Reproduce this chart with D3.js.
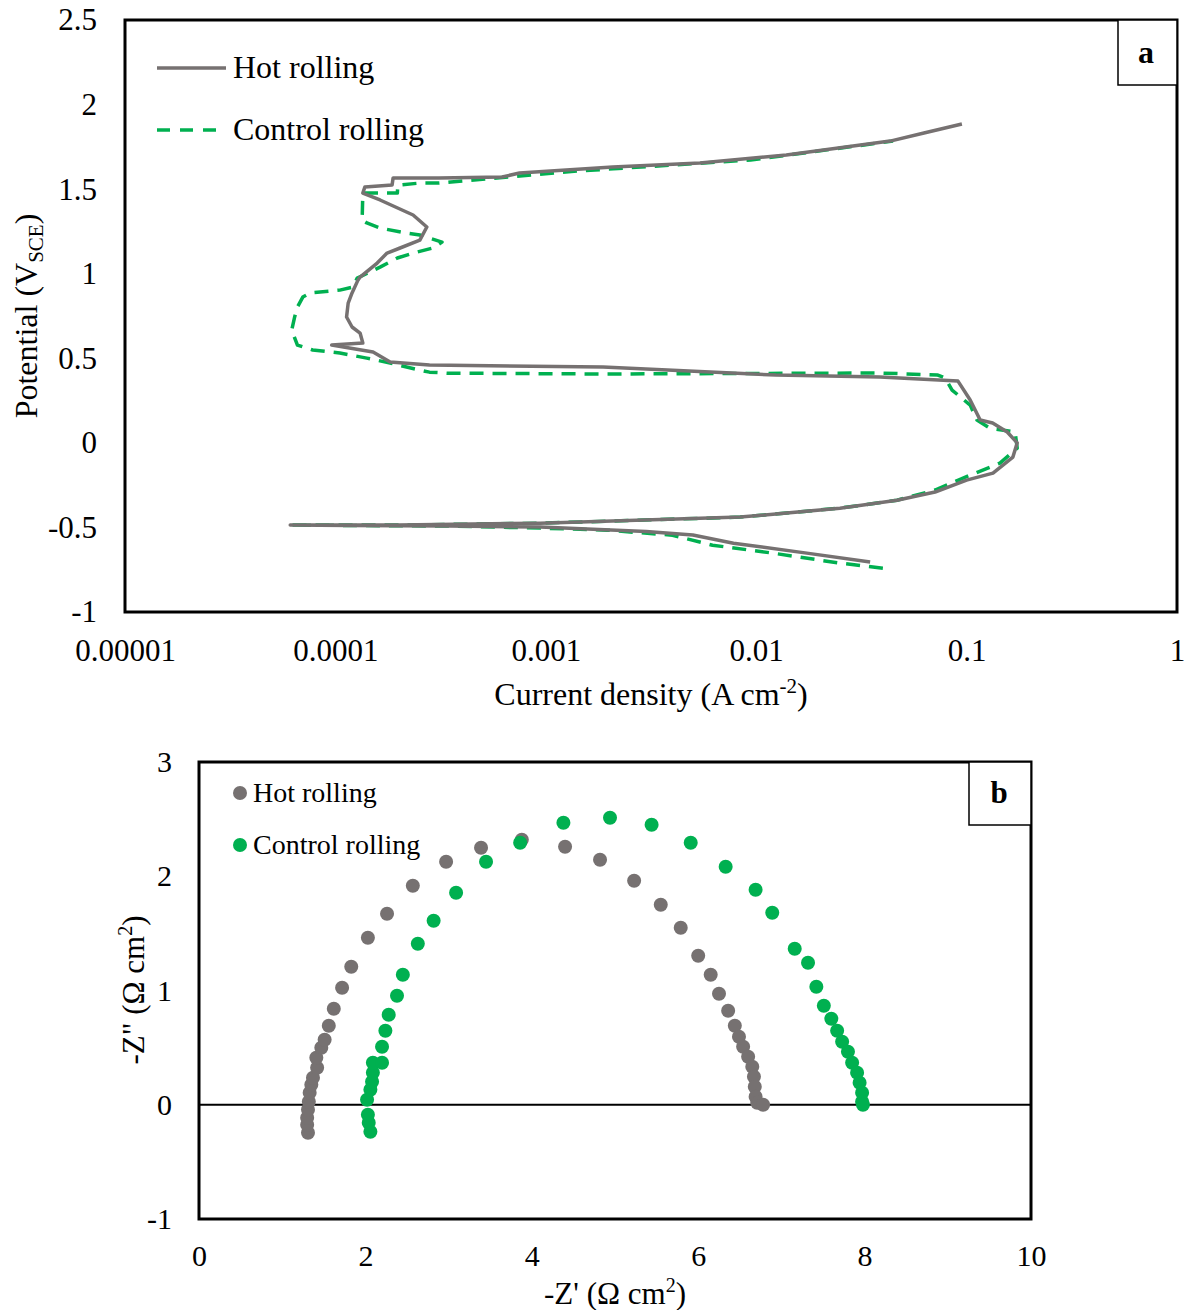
<!DOCTYPE html>
<html>
<head>
<meta charset="utf-8">
<script src="https://cdn.jsdelivr.net/npm/d3@7"></script>
<style>
  body { margin: 0; background: #fff; }
  svg text { font-family: "Liberation Serif", "Times New Roman", serif; fill: #000; }
</style>
</head>
<body>
<script>
// ---- data: polarization curves [current density (A cm-2), potential (V SCE)]
let hotPol = [
  [0.0348, -0.705], [0.0174, -0.652], [0.0078, -0.593], [0.0050, -0.545], [0.0030, -0.524],
  [0.00094, -0.498], [0.00035, -0.492], [0.000117, -0.489], [0.000061, -0.486],
  [0.0002, -0.486], [0.00094, -0.475], [0.0084, -0.439], [0.025, -0.386], [0.0467, -0.339],
  [0.0708, -0.291], [0.100, -0.220], [0.1335, -0.179], [0.166, -0.084], [0.174, 0.0],
  [0.156, 0.064], [0.133, 0.117], [0.116, 0.135], [0.104, 0.253], [0.091, 0.365],
  [0.0387, 0.389], [0.0124, 0.401], [0.00187, 0.448], [0.00028, 0.460], [0.000182, 0.478],
  [0.000151, 0.537], [0.000096, 0.578], [0.000135, 0.590], [0.000131, 0.649], [0.00012, 0.685],
  [0.000113, 0.744], [0.000115, 0.826], [0.00012, 0.886], [0.000128, 0.962], [0.000131, 0.980],
  [0.000158, 1.063], [0.000176, 1.122], [0.000203, 1.152], [0.000252, 1.199], [0.000272, 1.276],
  [0.000234, 1.347], [0.000163, 1.436], [0.000135, 1.477], [0.000138, 1.512], [0.000186, 1.524],
  [0.000188, 1.566], [0.00031, 1.566], [0.00062, 1.572], [0.00075, 1.595], [0.00208, 1.631],
  [0.0054, 1.654], [0.0139, 1.702], [0.0433, 1.784], [0.0627, 1.832], [0.095, 1.885]
];
let ctrlPol = [
  [0.040, -0.741], [0.025, -0.711], [0.012, -0.652], [0.0062, -0.605], [0.0040, -0.546],
  [0.00195, -0.516], [0.00094, -0.504], [0.00035, -0.492], [0.000061, -0.486],
  [0.0002, -0.486], [0.00094, -0.475], [0.0084, -0.439], [0.025, -0.386], [0.0467, -0.339],
  [0.0708, -0.279], [0.104, -0.191], [0.144, -0.120], [0.174, -0.031], [0.170, 0.064],
  [0.129, 0.087], [0.112, 0.135], [0.104, 0.223], [0.0853, 0.312], [0.079, 0.383],
  [0.073, 0.401], [0.0387, 0.413], [0.00187, 0.407], [0.00034, 0.412], [0.00028, 0.418],
  [0.000252, 0.430], [0.000182, 0.472], [0.000141, 0.501], [0.000105, 0.531], [0.000078, 0.549],
  [0.000066, 0.578], [0.000062, 0.667], [0.000064, 0.744], [0.000066, 0.803], [0.000070, 0.862],
  [0.000076, 0.886], [0.000105, 0.903], [0.000121, 0.921], [0.000127, 0.974], [0.000163, 1.039],
  [0.000197, 1.093], [0.000234, 1.122], [0.000291, 1.152], [0.000321, 1.187], [0.000252, 1.229],
  [0.000219, 1.240], [0.000163, 1.270], [0.000141, 1.300], [0.000134, 1.317], [0.000135, 1.477],
  [0.000197, 1.477], [0.000198, 1.524], [0.000252, 1.536], [0.00031, 1.536], [0.00142, 1.607],
  [0.0094, 1.672], [0.0447, 1.784]
];

// ---- data: Nyquist points [Z' (ohm cm2), -Z'' (ohm cm2)]
let hotEis = [
  [1.31, -0.245], [1.30, -0.175], [1.30, -0.114], [1.31, -0.044], [1.32, 0.026], [1.33, 0.105],
  [1.35, 0.175], [1.37, 0.236], [1.42, 0.324], [1.41, 0.411], [1.47, 0.499], [1.51, 0.569],
  [1.56, 0.691], [1.62, 0.840], [1.72, 1.024], [1.83, 1.208], [2.03, 1.462], [2.26, 1.672],
  [2.57, 1.917], [2.97, 2.127], [3.39, 2.249], [3.88, 2.319], [4.40, 2.258], [4.82, 2.144],
  [5.23, 1.961], [5.55, 1.751], [5.79, 1.549], [6.00, 1.304], [6.15, 1.138], [6.25, 0.972],
  [6.36, 0.823], [6.44, 0.691], [6.49, 0.595], [6.54, 0.508], [6.60, 0.420], [6.65, 0.333],
  [6.67, 0.245], [6.68, 0.158], [6.69, 0.070], [6.71, 0.018], [6.78, 0.0]
];
let ctrlEis = [
  [2.06, -0.236], [2.04, -0.158], [2.03, -0.088], [2.02, 0.044], [2.06, 0.131], [2.08, 0.201],
  [2.09, 0.280], [2.09, 0.368], [2.20, 0.368], [2.20, 0.508], [2.24, 0.648], [2.28, 0.788],
  [2.38, 0.954], [2.45, 1.138], [2.63, 1.409], [2.82, 1.610], [3.09, 1.856], [3.45, 2.127],
  [3.86, 2.293], [4.38, 2.468], [4.94, 2.512], [5.44, 2.451], [5.91, 2.293], [6.33, 2.083],
  [6.69, 1.882], [6.89, 1.681], [7.16, 1.365], [7.32, 1.243], [7.42, 1.033], [7.51, 0.867],
  [7.60, 0.753], [7.67, 0.648], [7.73, 0.551], [7.80, 0.464], [7.85, 0.368], [7.91, 0.280],
  [7.94, 0.193], [7.97, 0.105], [7.97, 0.026], [7.98, 0.0]
];

// ---- tick values and labels
let polXTicks = [0.00001, 0.0001, 0.001, 0.01, 0.1, 1];
let polXLabels = ['0.00001', '0.0001', '0.001', '0.01', '0.1', '1'];
let polYTicks = [2.5, 2, 1.5, 1, 0.5, 0, -0.5, -1];
let eisXTicks = [0, 2, 4, 6, 8, 10];
let eisYTicks = [3, 2, 1, 0, -1];
let seriesNames = ['Hot rolling', 'Control rolling'];

let grayColor = '#767171';
let greenColor = '#00b050';

let width = 1189;
let height = 1310;

let svg = d3.select('body')
  .append('svg')
  .attr('width', width)
  .attr('height', height);

// ================= panel a : polarization =================
let a = { left: 125, right: 1177, top: 20, bottom: 612 };

let xA = d3.scaleLog()
  .domain([1e-5, 1])
  .range([a.left, a.right]);

let yA = d3.scaleLinear()
  .domain([-1, 2.5])
  .range([a.bottom, a.top]);

let panelA = svg.append('g').attr('class', 'panel-a');

let lineA = d3.line()
  .x(function(d) { return xA(d[0]); })
  .y(function(d) { return yA(d[1]); });

panelA.append('path')
  .datum(ctrlPol)
  .attr('d', lineA)
  .attr('fill', 'none')
  .attr('stroke', greenColor)
  .attr('stroke-width', 3.5)
  .attr('stroke-dasharray', '14,9')
  .attr('stroke-linejoin', 'round');

panelA.append('path')
  .datum(hotPol)
  .attr('d', lineA)
  .attr('fill', 'none')
  .attr('stroke', grayColor)
  .attr('stroke-width', 3.5)
  .attr('stroke-linejoin', 'round');

// axes (labels only, frame drawn separately)
let axisAx = panelA.append('g')
  .attr('transform', 'translate(0,' + a.bottom + ')')
  .call(d3.axisBottom(xA)
    .tickValues(polXTicks)
    .tickSize(0)
    .tickPadding(27)
    .tickFormat(function(d, i) { return polXLabels[i]; }));
axisAx.select('.domain').remove();
axisAx.selectAll('text').attr('font-size', 31).attr('font-family', '"Liberation Serif", serif');

let axisAy = panelA.append('g')
  .attr('transform', 'translate(' + a.left + ',0)')
  .call(d3.axisLeft(yA)
    .tickValues(polYTicks)
    .tickSize(0)
    .tickPadding(28)
    .tickFormat(function(d) { return String(d); }));
axisAy.select('.domain').remove();
axisAy.selectAll('text').attr('font-size', 31).attr('font-family', '"Liberation Serif", serif');

panelA.append('rect')
  .attr('x', a.left)
  .attr('y', a.top)
  .attr('width', a.right - a.left)
  .attr('height', a.bottom - a.top)
  .attr('fill', 'none')
  .attr('stroke', '#000')
  .attr('stroke-width', 3);

// axis titles
let xTitleA = panelA.append('text')
  .attr('x', 651)
  .attr('y', 705)
  .attr('text-anchor', 'middle')
  .attr('font-size', 32);
xTitleA.append('tspan').text('Current density (A cm');
xTitleA.append('tspan').attr('dy', -12).attr('font-size', 21).text('-2');
xTitleA.append('tspan').attr('dy', 12).text(')');

let yTitleA = panelA.append('text')
  .attr('transform', 'translate(37,316) rotate(-90)')
  .attr('text-anchor', 'middle')
  .attr('font-size', 32);
yTitleA.append('tspan').text('Potential (V');
yTitleA.append('tspan').attr('dy', 6).attr('font-size', 21).text('SCE');
yTitleA.append('tspan').attr('dy', -6).text(')');

// legend a
let legendA = panelA.append('g').attr('class', 'legend');
legendA.append('line')
  .attr('x1', 157).attr('x2', 226).attr('y1', 68).attr('y2', 68)
  .attr('stroke', grayColor).attr('stroke-width', 3.5);
legendA.append('line')
  .attr('x1', 157).attr('x2', 226).attr('y1', 130).attr('y2', 130)
  .attr('stroke', greenColor).attr('stroke-width', 3.5)
  .attr('stroke-dasharray', '13,10');
legendA.selectAll('text')
  .data(seriesNames)
  .enter().append('text')
  .attr('x', 233)
  .attr('y', function(d, i) { return 78 + i * 62; })
  .attr('font-size', 32)
  .text(function(d) { return d; });

// panel letter
panelA.append('rect')
  .attr('x', 1118).attr('y', a.top)
  .attr('width', a.right - 1118).attr('height', 65)
  .attr('fill', '#fff').attr('stroke', '#000').attr('stroke-width', 1.5);
panelA.append('text')
  .attr('x', 1146).attr('y', 63)
  .attr('text-anchor', 'middle')
  .attr('font-size', 32)
  .attr('font-weight', 'bold')
  .text('a');

// ================= panel b : Nyquist =================
let b = { left: 199, right: 1031, top: 762, bottom: 1219 };

let xB = d3.scaleLinear()
  .domain([0, 10])
  .range([b.left, b.right]);

let yB = d3.scaleLinear()
  .domain([-1, 3])
  .range([b.bottom, b.top]);

let panelB = svg.append('g').attr('class', 'panel-b');

// zero line
panelB.append('line')
  .attr('x1', b.left).attr('x2', b.right)
  .attr('y1', yB(0)).attr('y2', yB(0))
  .attr('stroke', '#000').attr('stroke-width', 2);

panelB.append('g')
  .selectAll('circle')
  .data(hotEis)
  .enter().append('circle')
  .attr('cx', function(d) { return xB(d[0]); })
  .attr('cy', function(d) { return yB(d[1]); })
  .attr('r', 7)
  .attr('fill', grayColor);

panelB.append('g')
  .selectAll('circle')
  .data(ctrlEis)
  .enter().append('circle')
  .attr('cx', function(d) { return xB(d[0]); })
  .attr('cy', function(d) { return yB(d[1]); })
  .attr('r', 7)
  .attr('fill', greenColor);

let axisBx = panelB.append('g')
  .attr('transform', 'translate(0,' + b.bottom + ')')
  .call(d3.axisBottom(xB)
    .tickValues(eisXTicks)
    .tickSize(0)
    .tickPadding(26)
    .tickFormat(function(d) { return String(d); }));
axisBx.select('.domain').remove();
axisBx.selectAll('text').attr('font-size', 30).attr('font-family', '"Liberation Serif", serif');

let axisBy = panelB.append('g')
  .attr('transform', 'translate(' + b.left + ',0)')
  .call(d3.axisLeft(yB)
    .tickValues(eisYTicks)
    .tickSize(0)
    .tickPadding(27)
    .tickFormat(function(d) { return String(d); }));
axisBy.select('.domain').remove();
axisBy.selectAll('text').attr('font-size', 30).attr('font-family', '"Liberation Serif", serif');

panelB.append('rect')
  .attr('x', b.left)
  .attr('y', b.top)
  .attr('width', b.right - b.left)
  .attr('height', b.bottom - b.top)
  .attr('fill', 'none')
  .attr('stroke', '#000')
  .attr('stroke-width', 3);

let xTitleB = panelB.append('text')
  .attr('x', 615)
  .attr('y', 1304)
  .attr('text-anchor', 'middle')
  .attr('font-size', 31);
xTitleB.append('tspan').text("-Z' (\u03a9 cm");
xTitleB.append('tspan').attr('dy', -12).attr('font-size', 20).text('2');
xTitleB.append('tspan').attr('dy', 12).text(')');

let yTitleB = panelB.append('text')
  .attr('transform', 'translate(144,990) rotate(-90)')
  .attr('text-anchor', 'middle')
  .attr('font-size', 31);
yTitleB.append('tspan').text('-Z" (\u03a9 cm');
yTitleB.append('tspan').attr('dy', -12).attr('font-size', 20).text('2');
yTitleB.append('tspan').attr('dy', 12).text(')');

// legend b
let legendB = panelB.append('g').attr('class', 'legend');
legendB.selectAll('circle')
  .data([grayColor, greenColor])
  .enter().append('circle')
  .attr('cx', 240)
  .attr('cy', function(d, i) { return 793 + i * 52; })
  .attr('r', 7)
  .attr('fill', function(d) { return d; });
legendB.selectAll('text')
  .data(seriesNames)
  .enter().append('text')
  .attr('x', 253)
  .attr('y', function(d, i) { return 802 + i * 52; })
  .attr('font-size', 28)
  .text(function(d) { return d; });

panelB.append('rect')
  .attr('x', 969).attr('y', b.top)
  .attr('width', b.right - 969).attr('height', 63)
  .attr('fill', '#fff').attr('stroke', '#000').attr('stroke-width', 1.5);
panelB.append('text')
  .attr('x', 999).attr('y', 803)
  .attr('text-anchor', 'middle')
  .attr('font-size', 31)
  .attr('font-weight', 'bold')
  .text('b');
</script>
</body>
</html>
